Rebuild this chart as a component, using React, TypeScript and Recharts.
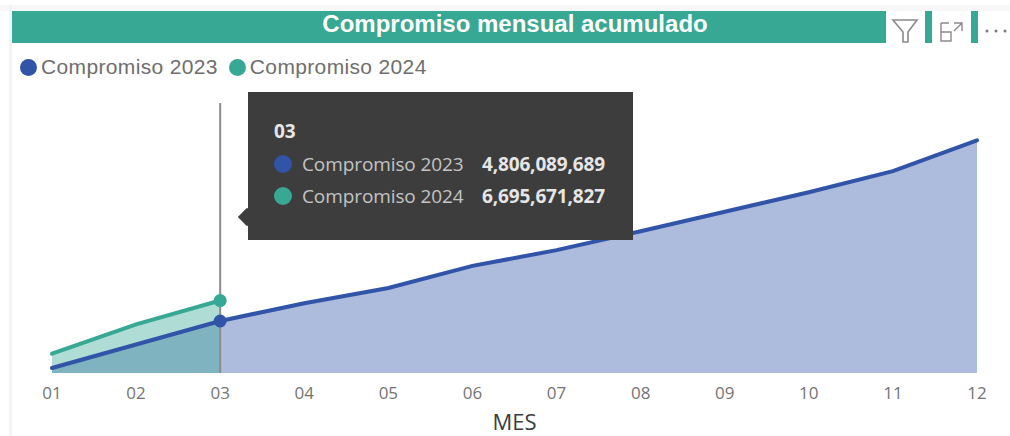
import React from "react";
import { AreaChart, Area, XAxis, YAxis, Tooltip, Legend } from "recharts";

const months = ["01", "02", "03", "04", "05", "06", "07", "08", "09", "10", "11", "12"];
const compromiso2023 = [460000000, 2630000000, 4806089689, 6450000000, 7850000000, 9900000000, 11350000000, 13100000000, 14900000000, 16700000000, 18650000000, 21500000000];
const compromiso2024: (number | null)[] = [1780000000, 4500000000, 6695671827, null, null, null, null, null, null, null, null, null];
const seriesNames = ["Compromiso 2023", "Compromiso 2024"];
const title = "Compromiso mensual acumulado";
const axisTitle = "MES";
const BLUE = "#3154a8";
const GREEN = "#37a893";
const SEGOE = "'Open Sans', 'Noto Sans', sans-serif";
const ARIAL = "'Liberation Sans', Arial, sans-serif";

const data = months.map((m, i) => ({
  mes: m,
  [seriesNames[0]]: compromiso2023[i],
  [seriesNames[1]]: compromiso2024[i],
}));

function LegendContent() {
  const colors = [BLUE, GREEN];
  return (
    <div style={{ display: "flex", alignItems: "center", fontFamily: ARIAL, fontSize: 21, letterSpacing: 0.35, color: "#6e6e6e", height: 24 }}>
      {seriesNames.map((n, i) => (
        <span key={n} style={{ display: "flex", alignItems: "center", marginRight: i === 0 ? 11 : 0 }}>
          <span style={{ width: 17, height: 17, borderRadius: "50%", background: colors[i], marginRight: 4 }} />
          {n}
        </span>
      ))}
    </div>
  );
}

function TooltipContent() {
  const row = (name: string, color: string, val: number) => (
    <div style={{ display: "flex", alignItems: "center", height: 32 }}>
      <span style={{ width: 18, height: 18, borderRadius: "50%", background: color, marginLeft: 26, marginRight: 10 }} />
      <span style={{ width: 180, color: "#c4c4c4", fontSize: 19, letterSpacing: -0.1, whiteSpace: "nowrap" }}>{name}</span>
      <span style={{ fontWeight: 700, color: "#e6e6e6", fontSize: 19, letterSpacing: -0.15 }}>{val.toLocaleString("en-US")}</span>
    </div>
  );
  return (
    <div style={{ position: "relative", width: 385, height: 148, background: "#3d3d3d", fontFamily: SEGOE, boxSizing: "border-box", paddingTop: 25 }}>
      <div style={{ position: "absolute", left: -10, top: 116, width: 18, height: 18, background: "#3d3d3d", transform: "rotate(45deg) scale(0.72)" }} />
      <div style={{ marginLeft: 26, fontWeight: 700, fontSize: 19, color: "#e6e6e6", height: 31, lineHeight: "28px" }}>{months[2]}</div>
      {row(seriesNames[0], BLUE, compromiso2023[2])}
      {row(seriesNames[1], GREEN, compromiso2024[2] as number)}
    </div>
  );
}

export default function App() {
  return (
    <div style={{ position: "absolute", left: 0, top: 0, width: 1010, height: 436, background: "#fff", overflow: "hidden" }}>
      <div style={{ position: "absolute", left: 0, top: 5, width: 1010, height: 6, background: "#f7f7f7" }} />
      <div style={{ position: "absolute", left: 9, top: 5, width: 3, height: 431, background: "#f3f3f3" }} />
      <div style={{ position: "absolute", left: 12, top: 11, width: 874, height: 32, background: GREEN, color: "#fff", fontFamily: ARIAL, fontWeight: 700, fontSize: 24, textAlign: "center", lineHeight: "25px" }}>
        <span style={{ position: "relative", left: 66 }}>{title}</span>
      </div>
      <div style={{ position: "absolute", left: 925, top: 11, width: 7, height: 32, background: GREEN }} />
      <div style={{ position: "absolute", left: 971, top: 11, width: 7, height: 32, background: GREEN }} />
      <svg style={{ position: "absolute", left: 886, top: 11 }} width="124" height="32" fill="none" stroke="#8a8a8a" strokeWidth="1.6">
        <path d="M7 9 H31 L22 21 V31 H17 V21 Z" />
        <path d="M55 21 H65 V30 H55 Z M55 12 V21 M55 12 H63" strokeWidth="1.4" />
        <path d="M68 12 H76 V20 M76 12 L68 20" strokeWidth="1.4" />
        <g fill="#7a7a7a" stroke="none">
          <circle cx="101" cy="20" r="1.5" />
          <circle cx="110" cy="20" r="1.5" />
          <circle cx="119" cy="20" r="1.5" />
        </g>
      </svg>
      <AreaChart width={1010} height={436} data={data} margin={{ top: 79, right: 33, bottom: 0, left: 52 }} style={{ position: "absolute", left: 0, top: 0 }}>
        <XAxis
          dataKey="mes"
          height={63}
          axisLine={false}
          tickLine={false}
          interval={0}
          tickMargin={8}
          tick={{ fill: "#747474", fontSize: 17, fontFamily: SEGOE }}
          label={{ value: axisTitle, position: "insideBottom", offset: 6, fill: "#3c3c3c", fontSize: 22, fontFamily: SEGOE }}
        />
        <YAxis hide domain={[0, 24948000000]} />
        <Legend content={<LegendContent />} verticalAlign="top" align="left" wrapperStyle={{ position: "absolute", left: 20, top: 55, width: "auto" }} />
        <Tooltip
          defaultIndex={2}
          content={<TooltipContent />}
          position={{ x: 248, y: 92 }}
          cursor={{ stroke: "#8c8c8c", strokeWidth: 2 }}
          isAnimationActive={false}
          wrapperStyle={{ outline: "none", zIndex: 5 }}
        />
        <Area type="linear" dataKey={seriesNames[0]} stroke="none" fill={BLUE} fillOpacity={0.4} dot={false} activeDot={false} isAnimationActive={false} />
        <Area type="linear" dataKey={seriesNames[1]} stroke="none" fill={GREEN} fillOpacity={0.4} dot={false} activeDot={false} isAnimationActive={false} />
        <Area type="linear" dataKey={seriesNames[1]} stroke={GREEN} strokeWidth={4} strokeLinecap="round" fill="none" dot={false} activeDot={{ r: 5.5, fill: GREEN, stroke: GREEN }} isAnimationActive={false} />
        <Area type="linear" dataKey={seriesNames[0]} stroke={BLUE} strokeWidth={4} strokeLinecap="round" fill="none" dot={false} activeDot={{ r: 5.5, fill: BLUE, stroke: BLUE }} isAnimationActive={false} />
      </AreaChart>
    </div>
  );
}
